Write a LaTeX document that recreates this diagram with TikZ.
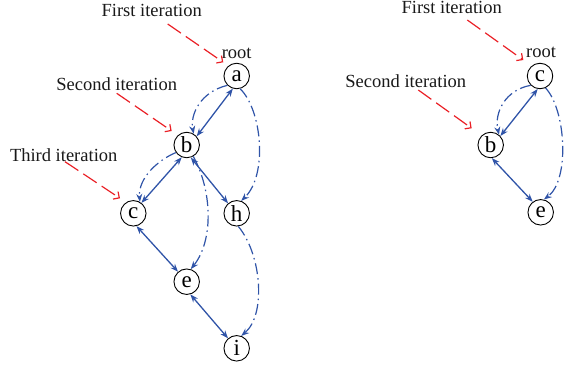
\documentclass[tikz,border=0pt]{standalone}
\usepackage{fontspec}
\setmainfont{Liberation Serif}
\usetikzlibrary{arrows.meta}
\definecolor{eblue}{RGB}{48,84,168}
\definecolor{ered}{RGB}{234,32,38}
\begin{document}
\begin{tikzpicture}[x=1pt,y=-1pt,
  vtx/.style={circle,draw=black,line width=0.9pt,minimum size=25.5pt,inner sep=0pt,font=\fontsize{23}{24}\selectfont},
  lbl/.style={font=\fontsize{18.5}{20}\selectfont,inner sep=0pt,anchor=base,text=black!90},
  tree/.style={eblue,line width=1.3pt,{Stealth[length=8pt,width=6pt]}-{Stealth[length=8pt,width=6pt]}},
  back/.style={eblue,line width=1.2pt,dash pattern=on 11pt off 4pt on 1.5pt off 4pt,-{Stealth[length=8pt,width=6pt]}},
  hint/.style={ered,line width=1.2pt,dash pattern=on 16pt off 6pt,-{Straight Barb[length=4.5pt,width=9pt]}}]
\useasboundingbox (0,0) rectangle (565,369);
% left tree
\node[vtx] (a) at (236.7,76) {a};
\node[vtx] (b) at (186.7,145) {b};
\node[vtx] (c) at (133.3,213.3) {c};
\node[vtx] (h) at (236.7,213.3) {h};
\node[vtx] (e) at (186.7,281.7) {e};
\node[vtx] (i) at (236.7,348.3) {i};
\node[lbl] (t1) at (151.7,16.7) {First iteration};
\node[lbl] (rt) at (236.7,59) {root};
\node[lbl] (t2) at (116.7,91) {Second iteration};
\node[lbl] (t3) at (63.7,161) {Third iteration};
\coordinate (l1s) at (167.7,24);  \coordinate (l1e) at (223.3,62.3);
\coordinate (l2s) at (116.7,93.3); \coordinate (l2e) at (171.7,131);
\coordinate (l3s) at (65,161.7);  \coordinate (l3e) at (120,198.3);
\draw[hint] (l1s) -- (l1e);
\draw[hint] (l2s) -- (l2e);
\draw[hint] (l3s) -- (l3e);
\draw[tree] (a.-107) -- (b.41);
\draw[tree] (b.248) -- (c.52);
\draw[tree] (b.-72) -- (h.131);
\draw[tree] (c.-76) -- (e.131);
\draw[tree] (e.-74) -- (i.131);
\draw[back] (a.225) .. controls (200,92) and (190,115) .. (b.58);
\draw[back] (a.-75) .. controls (262,110) and (268,175) .. (h.70);
\draw[back] (b.215) .. controls (158,160) and (138,178) .. (c.60);
\draw[back] (b.-60) .. controls (212,190) and (214,240) .. (e.72);
\draw[back] (h.-83) .. controls (262,255) and (266,315) .. (i.70);
% right tree
\node[vtx] (rc) at (540,76) {c};
\node[vtx] (rb) at (490.7,145) {b};
\node[vtx] (re) at (540.7,212.3) {e};
\node[lbl] (u1) at (451.7,13.3) {First iteration};
\node[lbl] (urt) at (541,58) {root};
\node[lbl] (u2) at (405.8,88) {Second iteration};
\coordinate (r1s) at (467.3,20);  \coordinate (r1e) at (523.3,60);
\coordinate (r2s) at (418.3,90);  \coordinate (r2e) at (471.7,128.3);
\draw[hint] (r1s) -- (r1e);
\draw[hint] (r2s) -- (r2e);
\draw[tree] (rc.-100) -- (rb.43);
\draw[tree] (rb.-85) -- (re.127);
\draw[back] (rc.225) .. controls (505,90) and (494,113) .. (rb.51);
\draw[back] (rc.-65) .. controls (566,110) and (570,180) .. (re.76);
\end{tikzpicture}
\end{document}
